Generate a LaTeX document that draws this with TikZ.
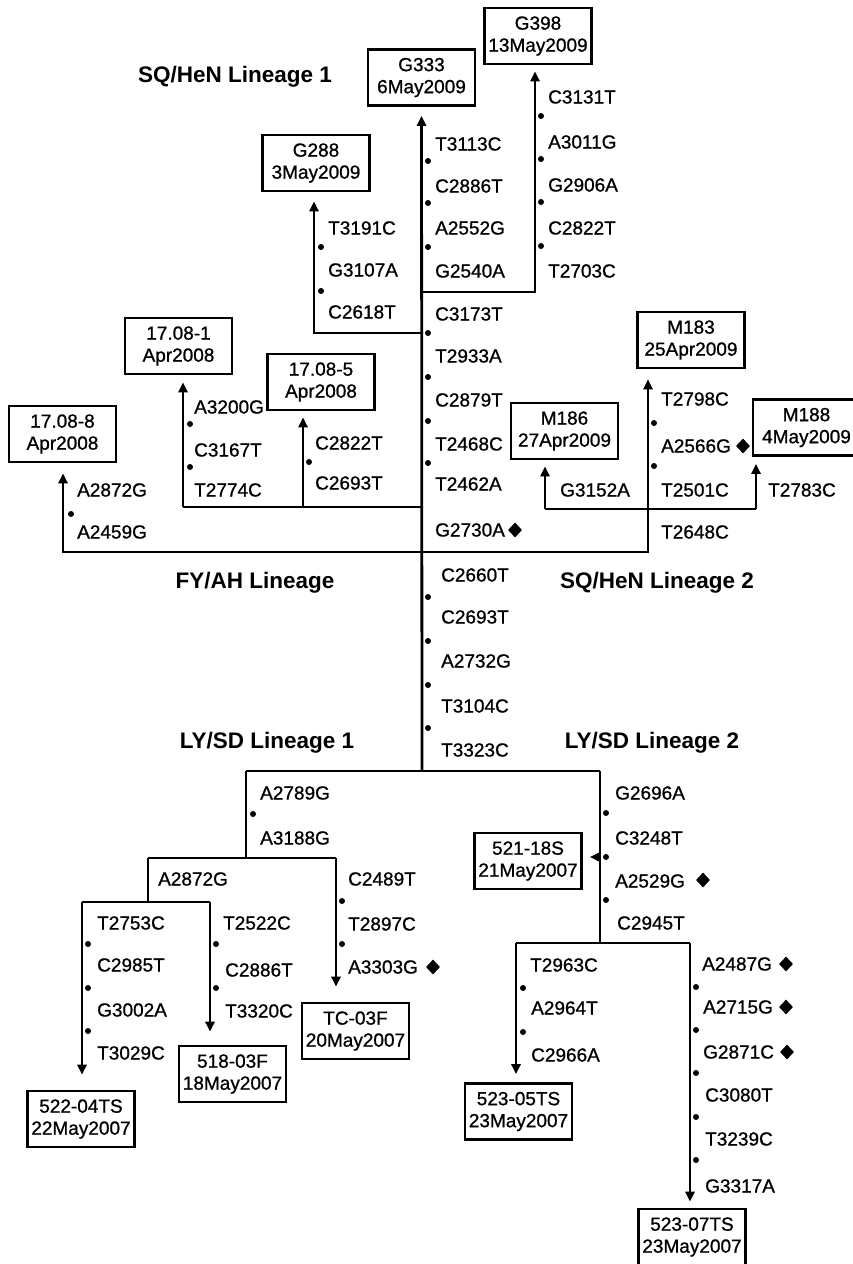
\documentclass[tikz,border=0pt]{standalone}
\usepackage{fontspec}
\setmainfont{Liberation Sans}
\newfontfamily\lblfont[FakeBold=0.9]{Liberation Sans}
\usetikzlibrary{arrows.meta,shapes.geometric}
\tikzset{
  lbl/.style={anchor=west, inner sep=0pt, font=\lblfont\fontsize{19}{22}\selectfont},
  tit/.style={inner sep=0pt, font=\fontsize{22.5}{26}\selectfont\bfseries},
  box/.style={draw, line width=2.6pt, minimum width=107pt, minimum height=56pt, inner sep=1pt, align=center, font=\lblfont\fontsize{19}{22}\selectfont},
  diam/.style={diamond, fill=black, inner sep=0pt, minimum width=14pt, minimum height=15pt},
  ln/.style={line width=2.8pt},
  arr/.style={line width=2.8pt, -{Triangle[length=10pt,width=9pt]}},
}
\begin{document}
\begin{tikzpicture}[x=1pt,y=-1pt]
\useasboundingbox (0,0) rectangle (852,1264);
\fill[white] (0,0) rectangle (852,1264);

% ---- boxes ----
\node[box] (G333) at (421.5,77.5) {G333\\6May2009};
\node[box] (G398) at (538,36) {G398\\13May2009};
\node[box] (G288) at (316,163) {G288\\3May2009};
\node[box] (s171) at (178.5,346) {17.08-1\\Apr2008};
\node[box] (s175) at (321,382) {17.08-5\\Apr2008};
\node[box] (s178) at (62.5,434) {17.08-8\\Apr2008};
\node[box] (M183) at (691,340) {M183\\25Apr2009};
\node[box] (M186) at (564.5,431) {M186\\27Apr2009};
\node[box] (M188) at (806.5,427.5) {M188\\4May2009};
\node[box] (b521) at (528,861) {521-18S\\21May2007};
\node[box] (TC03) at (355.5,1031) {TC-03F\\20May2007};
\node[box] (b518) at (232.5,1074) {518-03F\\18May2007};
\node[box] (b522) at (81,1119) {522-04TS\\22May2007};
\node[box] (b5235) at (518.5,1111.5) {523-05TS\\23May2007};
\node[box] (b5237) at (692,1237) {523-07TS\\23May2007};

% ---- lineage titles ----
\node[tit] (tSQ1) at (235,77) {SQ/HeN Lineage 1};
\node[tit] (tFY) at (255,583) {FY/AH Lineage};
\node[tit] (tSQ2) at (657,583) {SQ/HeN Lineage 2};
\node[tit] (tLY1) at (267,743) {LY/SD Lineage 1};
\node[tit] (tLY2) at (652,743) {LY/SD Lineage 2};

% ---- junction coordinates ----
\coordinate (tA) at (422,771);
\coordinate (tB) at (422,552);
\coordinate (tC) at (422,507);
\coordinate (tD) at (422,333);
\coordinate (tE) at (422,292);
\coordinate (cG398) at (535,292);
\coordinate (cG288) at (314,333);
\coordinate (c171) at (183,507);
\coordinate (c175) at (303,507);
\coordinate (c178) at (63,552);
\coordinate (cM183) at (648,552);
\coordinate (cM186) at (545,509);
\coordinate (cM188) at (756,509);
\coordinate (cL1) at (246,771);
\coordinate (cL1b) at (246,858);
\coordinate (cL1l) at (148,858);
\coordinate (cL1r) at (336,858);
\coordinate (cL1lb) at (148,902);
\coordinate (c522) at (82,902);
\coordinate (c518) at (210,902);
\coordinate (cL2) at (600,771);
\coordinate (c521) at (600,857);
\coordinate (cL2b) at (600,943);
\coordinate (c5235) at (516,943);
\coordinate (c5237) at (690,943);

% ---- connectors ----
\draw[arr, shorten >=9pt] (tA) -- (G333.south);
\draw[arr, shorten >=6pt] (tE) -- (cG398) -- (cG398 |- G398.south);
\draw[arr, shorten >=9pt] (tD) -- (cG288) -- (cG288 |- G288.south);
\draw[ln] (tC) -- (c171);
\draw[arr, shorten >=7pt] (c171) -- (c171 |- s171.south);
\draw[arr, shorten >=6pt] (c175) -- (c175 |- s175.south);
\draw[arr, shorten >=10pt] (tB) -- (c178) -- (c178 |- s178.south);
\draw[arr, shorten >=10pt] (tB) -- (cM183) -- (cM183 |- M183.south);
\draw[ln] (cM186) -- (cM188);
\draw[arr, shorten >=6pt] (cM186) -- (cM186 |- M186.south);
\draw[arr, shorten >=7pt] (cM188) -- (cM188 |- M188.south);
% LY/SD
\draw[ln] (cL1) -- (cL2);
\draw[ln] (cL1) -- (cL1b);
\draw[ln] (cL1l) -- (cL1r);
\draw[ln] (cL1l) -- (cL1lb);
\draw[ln] (c522) -- (c518);
\draw[arr, shorten >=15pt] (c522) -- (c522 |- b522.north);
\draw[arr, shorten >=13pt] (c518) -- (c518 |- b518.north);
\draw[arr, shorten >=15pt] (cL1r) -- (cL1r |- TC03.north);
\draw[ln] (cL2) -- (cL2b);
\draw[arr, shorten >=7pt] (c521) -- (c521 -| b521.east);
\draw[ln] (c5235) -- (c5237);
\draw[arr, shorten >=8pt] (c5235) -- (c5235 |- b5235.north);
\draw[arr, shorten >=6pt] (c5237) -- (c5237 |- b5237.north);

% ---- mutation dots ----
\foreach \x/\y in {428/161,428/203,428/247, 428/333,428/377,428/421,428/463,
  428/597,428/641,428/685,428/728,
  541/116,541/159,541/202,541/246, 321/247,321/291,
  190/424,190/467, 309/462, 71/514, 654/423,654/466,
  253/814, 342/901,342/944, 88/944,88/988,88/1031, 216/944,216/988,
  606/813,606/857,606/900, 523/988,523/1032,
  696/987,696/1030,696/1073,696/1117,696/1160}
  \fill (\x,\y) circle[radius=3pt];

% ---- mutation labels ----
% trunk
\node[lbl] (k1) at (435,144) {T3113C};
\node[lbl] (k2) at (435,186) {C2886T};
\node[lbl] (k3) at (435,228) {A2552G};
\node[lbl] (k4) at (435,271) {G2540A};
\node[lbl] (k5) at (435,314) {C3173T};
\node[lbl] (k6) at (435,356) {T2933A};
\node[lbl] (k7) at (435,400) {C2879T};
\node[lbl] (k8) at (435,444) {T2468C};
\node[lbl] (k9) at (435,484) {T2462A};
\node[lbl] (k10) at (435,530) {G2730A};
\node[lbl] (k11) at (441,575) {C2660T};
\node[lbl] (k12) at (441,617) {C2693T};
\node[lbl] (k13) at (441,661) {A2732G};
\node[lbl] (k14) at (441,706) {T3104C};
\node[lbl] (k15) at (441,750) {T3323C};
% G398 branch
\node[lbl] (g1) at (548,97) {C3131T};
\node[lbl] (g2) at (548,142) {A3011G};
\node[lbl] (g3) at (548,185) {G2906A};
\node[lbl] (g4) at (548,228) {C2822T};
\node[lbl] (g5) at (548,271) {T2703C};
% G288 branch
\node[lbl] (h1) at (328,228) {T3191C};
\node[lbl] (h2) at (328,270) {G3107A};
\node[lbl] (h3) at (328,312) {C2618T};
% 17.08 branches
\node[lbl] (f1) at (194,407) {A3200G};
\node[lbl] (f2) at (194,450) {C3167T};
\node[lbl] (f3) at (194,490) {T2774C};
\node[lbl] (f4) at (315,443) {C2822T};
\node[lbl] (f5) at (315,483) {C2693T};
\node[lbl] (f6) at (77,490) {A2872G};
\node[lbl] (f7) at (77,532) {A2459G};
% SQ/HeN 2
\node[lbl] (q1) at (661,399) {T2798C};
\node[lbl] (q2) at (661,446) {A2566G};
\node[lbl] (q3) at (661,490) {T2501C};
\node[lbl] (q4) at (661,532) {T2648C};
\node[lbl] (q5) at (560,490) {G3152A};
\node[lbl] (q6) at (768,490) {T2783C};
% LY/SD 1
\node[lbl] (y1) at (260,793) {A2789G};
\node[lbl] (y2) at (260,838) {A3188G};
\node[lbl] (y3) at (158,879) {A2872G};
\node[lbl] (y4) at (348,879) {C2489T};
\node[lbl] (y5) at (348,924) {T2897C};
\node[lbl] (y6) at (348,967) {A3303G};
\node[lbl] (y7) at (97,923) {T2753C};
\node[lbl] (y8) at (97,965) {C2985T};
\node[lbl] (y9) at (97,1010) {G3002A};
\node[lbl] (y10) at (97,1053) {T3029C};
\node[lbl] (y11) at (223,923) {T2522C};
\node[lbl] (y12) at (225,970) {C2886T};
\node[lbl] (y13) at (225,1011) {T3320C};
% LY/SD 2
\node[lbl] (z1) at (615,793) {G2696A};
\node[lbl] (z2) at (615,838) {C3248T};
\node[lbl] (z3) at (615,881) {A2529G};
\node[lbl] (z4) at (617,923) {C2945T};
\node[lbl] (z5) at (530,965) {T2963C};
\node[lbl] (z6) at (531,1008) {A2964T};
\node[lbl] (z7) at (531,1055) {C2966A};
\node[lbl] (z8) at (702,964) {A2487G};
\node[lbl] (z9) at (703,1007) {A2715G};
\node[lbl] (z10) at (703,1052) {G2871C};
\node[lbl] (z11) at (705,1095) {C3080T};
\node[lbl] (z12) at (705,1139) {T3239C};
\node[lbl] (z13) at (705,1186) {G3317A};

% ---- diamonds ----
\node[diam] (d1) at (515,530) {};
\node[diam] (d2) at (743,446) {};
\node[diam] (d3) at (703,880) {};
\node[diam] (d4) at (433,967) {};
\node[diam] (d5) at (786,964) {};
\node[diam] (d6) at (786,1007) {};
\node[diam] (d7) at (787,1052) {};
\end{tikzpicture}
\end{document}
